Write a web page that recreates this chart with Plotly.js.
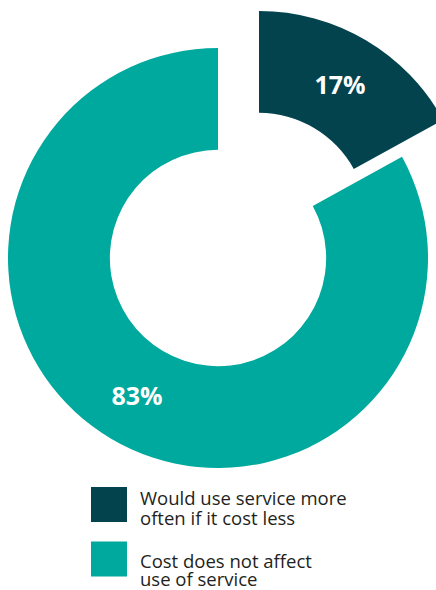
<!DOCTYPE html>
<html>
<head>
<meta charset="utf-8">
<script src="https://cdn.plot.ly/plotly-3.0.1.min.js"></script>
<style>
  html, body { margin: 0; padding: 0; overflow: hidden; background: #fff; }
  #chart { width: 520px; height: 590px; }
</style>
</head>
<body>
<div id="chart"></div>
<script>
// ---- data ----
const categories = ["Would use service more often if it cost less", "Cost does not affect use of service"];
const legendLines = [["Would use service more", "often if it cost less"], ["Cost does not affect", "use of service"]];
const values = [17, 83];
const colors = ["#03434e", "#00a99d"];

// ---- layout helpers (pixel -> paper) ----
const W = 520, H = 590;
const px = x => x / W;
const py = y => (H - y) / H;
const clear = "rgba(0,0,0,0)";
const pctText = values.map(v => v + "%");

function domainFor(cx, cy, r) {
  return { x: [px(cx - r), px(cx + r)], y: [py(cy + r), py(cy - r)] };
}

const common = {
  type: "pie",
  labels: categories,
  values: values,
  sort: false,
  direction: "clockwise",
  rotation: 0,
  hole: 0.515,
  textinfo: "text",
  textposition: "inside",
  insidetextorientation: "horizontal",
  textfont: { family: "Open Sans", size: 25, color: "#ffffff", weight: "bold" },
  showlegend: false,
  hoverinfo: "label+percent"
};

// Main ring: large share
const traceMain = Object.assign({}, common, {
  domain: domainFor(218, 258, 210),
  marker: { colors: [clear, colors[1]], line: { width: 0 } },
  text: pctText.map((t, i) => i === 1 ? t : "")
});

// Exploded small share
const traceOut = Object.assign({}, common, {
  domain: domainFor(259, 221, 210),
  marker: { colors: [colors[0], clear], line: { width: 0 } },
  text: pctText.map((t, i) => i === 0 ? t : "")
});

// custom legend
const squareY = [504.5, 559];
const lineY = [[497.8, 517], [560, 578.8]];
const shapes = [];
const annotations = [];
categories.forEach((c, i) => {
  const cy = squareY[i];
  shapes.push({
    type: "rect", xref: "paper", yref: "paper",
    x0: px(91), x1: px(127), y0: py(cy + 17.5), y1: py(cy - 17.5),
    fillcolor: colors[i], line: { width: 0 }
  });
  legendLines[i].forEach((t, j) => {
    annotations.push({
      xref: "paper", yref: "paper", x: px(139), y: py(lineY[i][j]),
      xanchor: "left", yanchor: "middle", align: "left", showarrow: false,
      borderpad: 0,
      text: t,
      font: { family: "Open Sans", size: 18.5, color: "#231f20" }
    });
  });
});

const layout = {
  width: W, height: H,
  margin: { l: 0, r: 0, t: 0, b: 0 },
  paper_bgcolor: "#ffffff",
  showlegend: false,
  shapes: shapes,
  annotations: annotations
};

Plotly.newPlot("chart", [traceMain, traceOut], layout, { displayModeBar: false, staticPlot: true });
</script>
</body>
</html>
